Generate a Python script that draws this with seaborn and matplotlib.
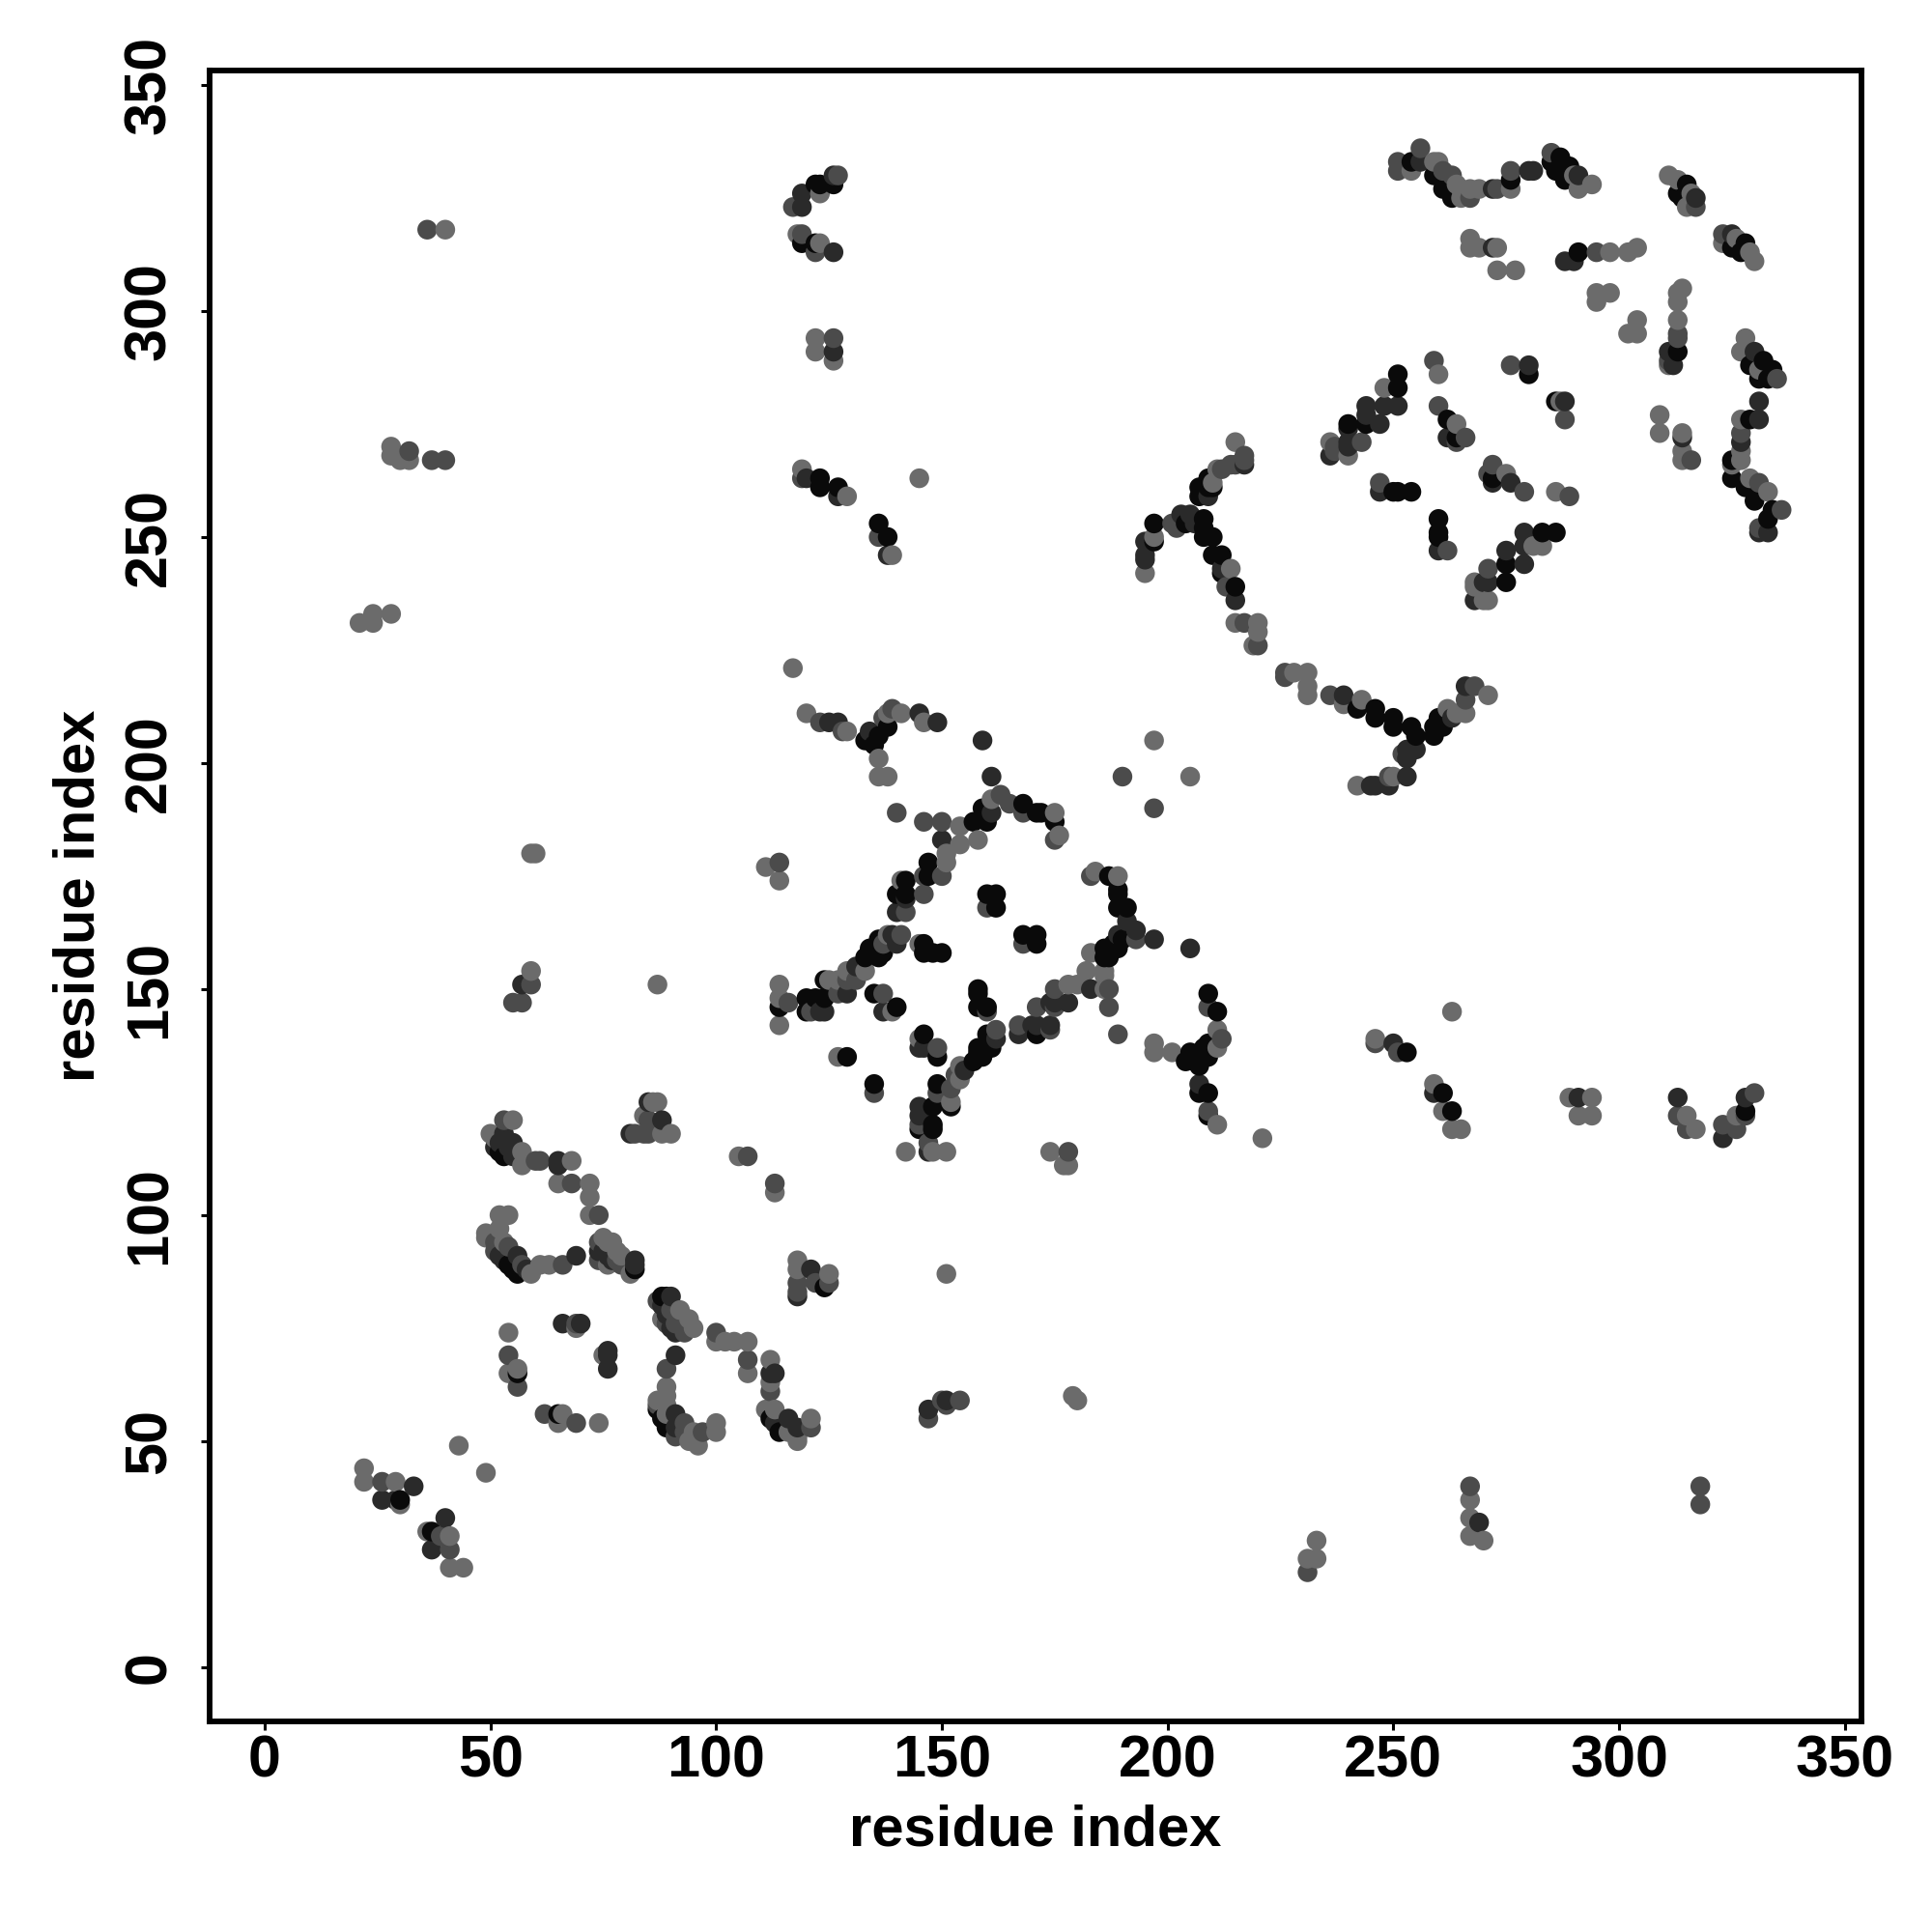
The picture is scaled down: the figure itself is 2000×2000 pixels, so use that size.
"""Residue contact map, drawn from hand-read (x, y, level) triples."""

import matplotlib
matplotlib.use("Agg")
import matplotlib.pyplot as plt
import pandas as pd
import seaborn as sns

# each contact: residue i, residue j, shade level (0 light .. 3 near black)
N_TERM = [(22,44,0),(22,41,0),(26,41,1),(29,41,0),(33,40,2),(26,37,2),(30,36,0),(29,37,2),(30,37,3),
          (40,33,2),(36,30,0),(37,30,3),(37,26,2),(39,29,1),(41,29,0),(41,26,1),(41,22,0),(44,22,0),
          (43,49,0),(49,43,0)]
FAR_LEFT = [(36,318,1),(40,318,0),(28,270,0),(28,268,0),(30,267,0),(32,269,1),(32,267,0),(37,267,1),(40,267,1),
            (21,231,0),(24,231,0),(24,233,0),(28,233,0),(59,180,0),(60,180,0),(59,154,0),(59,151,1),(57,151,2),
            (55,147,1),(57,147,1),(87,151,0),(54,74,0),(54,69,1),(54,65,0),(56,65,3),(56,66,0),(56,62,1),
            (66,76,2),(69,75,0),(69,76,1),(70,76,2),(75,69,0),(76,70,2),(76,69,2),(76,66,2),
            (62,56,1),(65,56,3),(66,56,0),(65,54,0),(69,54,1),(74,54,0)]
BLOCK_A = [(53,121,1),(55,121,0),(50,118,0),(51,117,0),(52,116,2),(53,118,2),(51,115,2),(55,116,2),(52,114,3),(53,113,3),
           (54,115,2),(55,113,2),(57,114,0),(57,111,0),(60,112,1),(61,112,1),(65,112,2),(65,111,2),(68,112,0),
           (65,107,0),(68,107,1),(72,107,0),(72,104,0),(72,100,0),(74,100,1),(105,113,0),(107,113,1),(113,105,0),(113,107,1),
           (52,100,0),(54,100,0),(49,96,0),(49,95,0),(52,97,0),(51,94,1),(53,94,0),(51,92,1),(52,91,2),(54,93,1),(53,90,2),
           (56,91,2),(54,89,3),(55,88,3),(57,89,1),(56,87,3),(58,88,2),(59,87,0),(61,89,0),(63,89,0),(66,89,1),(69,91,2)]
BLOCK_B = [(74,94,1),(74,92,2),(74,90,1),(75,95,0),(76,94,0),(75,92,2),(76,91,2),(77,94,0),(76,89,0),(77,90,2),
           (78,92,0),(78,90,1),(79,89,1),(79,91,0),(81,87,0),(82,90,2),(82,89,2),(82,88,3),
           (85,125,2),(86,125,0),(87,125,0),(84,122,0),(85,121,1),(88,121,2),(81,118,2),(82,118,1),(84,118,1),(85,118,1),(88,118,0),(90,118,0),
           (87,81,1),(88,82,3),(89,82,3),(90,82,2),(88,80,2),(89,78,2),(90,79,1),(88,77,0),(89,76,1),(90,75,2),(91,76,1),(92,79,0),
           (91,74,2),(92,77,1),(93,75,1),(94,77,0),(93,74,1),(95,75,0),(100,74,1),(100,72,0),(102,72,0),(104,72,0),(107,72,0),(107,68,1),(107,65,0)]
BLOCK_C = [(91,69,2),(89,66,1),(89,62,0),(89,60,0),(89,58,0),(87,59,0),(87,57,3),(87,58,1),(88,55,3),(89,56,0),(89,53,3),
           (91,56,2),(91,53,2),(93,54,1),(91,51,1),(93,52,1),(95,52,0),(96,49,0),(95,51,0),(94,50,0),(97,52,1),(100,54,0),(100,52,0),
           (112,68,0),(112,65,2),(113,65,2),(112,61,1),(112,63,0),(111,57,0),(113,57,0),(112,55,3),(113,54,2),(114,52,3),
           (116,55,2),(116,52,0),(118,53,2),(118,51,0),(118,50,0),(121,55,0),(121,53,1)]
BLOCK_D = [(118,90,0),(118,88,0),(121,88,2),(118,85,1),(118,83,1),(118,82,2),(122,85,1),(125,87,0),(125,85,1),(124,84,3),
           (147,57,2),(147,55,1),(150,59,1),(151,58,1),(151,59,2),(154,59,1),(151,87,0),(179,60,0),(180,59,0),
           (231,21,1),(231,24,0),(233,24,0),(233,28,0),(267,40,1),(267,37,0),(267,33,0),(267,29,0),(269,32,2),(270,28,0),
           (318,40,1),(318,36,1)]
CENTER_LEFT = [(111,177,0),(114,178,1),(114,174,0),(114,151,0),(114,148,0),(116,147,1),(114,146,3),(114,142,0),
               (120,148,3),(122,148,3),(124,148,3),(120,145,3),(121,145,1),(123,145,2),(124,145,2),(124,152,3),(125,152,0),(127,152,0),
               (127,149,1),(129,149,2),(129,152,1),(129,154,0),(131,152,1),(131,155,2),(133,154,0),(133,157,3),(134,159,3),
               (136,157,3),(136,159,3),(136,161,3),(137,158,3),(137,160,1),(138,162,0),(139,162,2),(140,160,2),(141,162,1),
               (127,135,0),(129,135,3),(135,129,3),(135,127,1),(135,149,3),(137,149,1),(137,145,2),(139,145,0),(140,146,3),
               (145,160,0),(146,160,3),(146,158,3),(148,158,3),(150,158,3),(145,139,0),(146,140,3),(145,137,2),(146,137,2),(149,137,1),(149,135,3)]
CENTER_UP = [(140,189,1),(146,187,1),(150,187,1),(150,183,2),(154,186,0),(154,182,0),(158,183,0),(151,180,0),(151,178,0),
             (147,178,3),(146,175,1),(147,175,3),(150,175,1),(146,171,1),(141,174,0),(142,174,3),(140,171,3),(142,171,3),(142,170,2),(140,167,2),(142,167,1),
             (157,187,3),(159,190,3),(160,187,3),(161,189,2),(161,192,0),(163,193,1),(165,191,1),(168,189,1),(168,191,3),(171,189,3),(172,189,3),
             (175,187,3),(175,189,0),(175,183,1),(176,184,0),(197,190,1),(160,171,3),(162,171,3),(160,168,1),(162,168,3),
             (168,160,1),(168,162,3),(171,162,3),(171,160,3),(158,150,3),(158,149,3),(158,146,3),(160,145,1),(160,146,3)]
CENTER_RIGHT = [(183,175,1),(184,176,0),(187,175,3),(189,175,0),(189,172,3),(189,171,3),(189,168,3),(191,168,3),(191,165,2),
                (193,161,1),(193,163,2),(197,161,2),(205,159,2),(189,162,2),(188,160,3),(190,161,3),(186,159,3),(189,159,3),(186,157,3),(187,157,3),
                (183,158,0),(182,154,0),(186,154,0),(186,153,0),(186,150,0),(187,150,1),(183,150,2),(180,151,0),(178,151,0),(187,146,1),(189,140,1),
                (175,150,1),(175,146,1),(175,147,2),(174,147,2),(178,147,2),(171,146,1),(174,141,1),(174,142,2),(170,142,2),(171,142,2),(171,140,3),(167,140,2),(167,142,1),
                (162,139,2),(162,141,1),(160,140,3),(161,137,3),(158,137,3),(158,136,3),(159,135,3),(157,134,3),(155,132,2),(154,133,0),(153,131,1),(154,130,0),
                (149,129,3),(149,127,1),(152,124,3),(152,128,1),(152,125,0),(145,124,2),(145,122,2),(145,119,3),(145,120,1),(148,124,3),(148,120,3),(148,119,3),
                (142,114,0),(147,114,2),(147,116,1),(148,114,0),(151,114,0),(174,114,0),(178,114,1),(177,111,0),(178,111,0),(221,117,0)]
SIDE_RIGHT = [(209,149,3),(209,146,1),(211,145,3),(211,141,0),(211,137,0),(212,139,1),(209,138,3),(208,137,3),(208,136,3),(205,136,3),(204,134,3),(206,134,3),
              (207,133,3),(209,135,3),(197,138,0),(197,136,0),(201,136,0),(207,129,2),(207,127,3),(209,127,3),(209,122,3),(209,123,1),(211,120,0),
              (246,139,0),(246,138,1),(250,138,2),(251,136,1),(253,136,3),(259,129,0),(259,127,2),(261,127,3),(261,123,0),(263,123,3),(263,119,0),(265,119,0),(263,145,0),
              (289,126,0),(291,126,2),(294,126,0),(291,122,0),(294,122,0),(313,126,2),(313,122,1),(315,122,0),(315,119,1),(317,119,0),
              (323,120,1),(323,117,2),(326,122,0),(326,119,1),(328,126,2),(328,122,1),(328,123,3),(330,127,1)]
TOP_LEFT = [(117,323,1),(119,323,2),(119,326,2),(123,326,0),(122,328,3),(123,328,3),(126,328,3),(126,330,2),(127,330,1),
            (119,315,3),(118,317,0),(119,317,1),(122,315,3),(122,313,1),(123,315,0),(126,313,2),
            (122,294,0),(122,291,0),(126,289,0),(126,294,1),(126,291,2),
            (119,265,0),(119,263,1),(120,263,2),(123,263,3),(123,261,3),(127,261,3),(127,259,2),(129,259,0),(145,263,0),
            (136,253,3),(136,250,1),(138,250,3),(138,246,2),(139,246,0),
            (117,221,0),(120,211,0),(123,209,1),(125,209,2),(127,209,2),(128,207,1),(129,207,0),
            (134,207,2),(133,205,3),(135,204,3),(136,206,3),(138,208,3),(137,210,1),(138,211,0),(139,212,1),(141,211,0),(136,201,0),(136,197,0),(138,197,0),
            (145,211,2),(146,209,0),(149,209,2),(159,205,2),(161,197,2)]
ARC_LEFT = [(215,271,0),(217,268,1),(217,267,1),(217,266,2),(215,266,1),(214,266,1),(211,265,0),(212,265,1),(209,263,3),(210,262,0),(209,261,3),
            (207,261,3),(210,261,3),(207,259,3),(209,259,2),(197,253,3),(195,249,2),(197,249,3),(197,250,0),(195,246,2),(195,245,2),(195,242,0),
            (201,253,1),(202,252,1),(203,255,2),(205,255,2),(204,253,3),(206,253,2),(208,254,3),(208,252,3),(208,250,3),(210,250,3),(210,246,3),(212,246,3),
            (212,243,2),(212,242,3),(214,243,0),(213,239,1),(215,239,3),(215,236,2),(215,231,0),(217,231,1),(220,231,0),(220,229,0),(219,226,0),(220,226,1),
            (226,220,1),(226,219,1),(228,220,0),(231,220,0),(231,217,0),(231,215,0),(236,215,1),(239,213,0),(239,215,2),(242,212,3),(243,214,0),
            (246,212,3),(246,210,3),(250,210,3),(250,208,3),(254,208,3),(255,206,3),(255,203,2),(253,203,2),(252,202,1),(253,201,2),(253,197,2),
            (249,195,2),(250,197,0),(249,197,1),(246,195,2),(245,195,2),(242,195,0),(259,206,3),(259,208,3),(260,210,3),(261,208,3),(263,210,2),
            (262,212,0),(264,211,0),(266,211,0),(266,214,1),(266,217,2),(268,217,1),(271,215,0),(197,205,0),(190,197,1),(205,197,0)]
BOX_RIGHT = [(251,286,3),(251,283,3),(248,283,0),(251,279,2),(248,279,2),(244,279,2),(244,277,2),(247,275,2),(244,275,3),(240,275,3),(240,274,2),
             (243,271,1),(240,271,2),(240,270,2),(236,271,0),(237,270,1),(236,268,2),(240,268,0),(237,269,1),(259,289,1),(260,286,0),(260,279,1),
             (262,276,3),(262,272,2),(264,272,3),(264,275,0),(266,272,1),(264,271,1),(276,288,1),(280,286,3),(280,288,2),(286,280,3),(287,280,0),(288,280,2),(288,276,1),
             (271,264,1),(272,266,1),(272,263,3),(272,262,2),(275,264,0),(276,262,2),(279,260,1),(286,260,0),(289,259,1),
             (247,262,1),(247,260,2),(250,260,3),(251,260,3),(254,260,3),(260,254,3),(260,251,3),(260,250,3),(260,247,2),(262,247,1),
             (286,251,3),(283,251,3),(279,251,2),(279,248,2),(281,248,0),(283,248,0),(275,247,2),(279,244,2),(275,244,3),(275,240,3),
             (271,243,1),(271,240,2),(270,240,2),(268,240,0),(268,239,0),(268,236,2),(270,236,0),(271,236,0)]
TOP_RIGHT = [(251,333,1),(251,331,1),(254,331,0),(254,333,3),(256,336,1),(256,333,2),(259,333,0),(260,333,0),(259,330,3),(261,331,1),(261,327,3),(263,325,3),
             (263,330,1),(264,328,0),(265,327,0),(265,325,0),(267,325,1),(267,327,0),(269,327,0),(272,327,2),(273,327,1),(276,329,3),(276,331,1),(276,327,0),(280,331,2),(281,331,2),
             (285,335,1),(285,333,3),(286,331,3),(287,334,3),(288,329,3),(289,332,3),(290,330,0),(291,330,2),(291,327,0),(294,328,0),
             (311,330,0),(313,329,0),(313,326,3),(314,325,3),(315,328,3),(316,326,0),(317,325,2),(315,323,0),(317,323,1),
             (323,317,1),(323,315,0),(325,317,2),(325,314,3),(326,316,0),(328,315,3),(327,313,3),(329,313,0),(330,311,0),
             (267,316,0),(267,314,0),(269,314,0),(272,314,2),(273,314,0),(273,309,0),(277,309,0),
             (288,311,2),(290,311,2),(291,313,3),(295,313,1),(298,313,0),(302,313,0),(304,314,0),
             (295,304,0),(298,304,0),(295,302,0),(304,298,0),(302,295,0),(304,295,0),
             (314,305,0),(313,304,0),(313,302,0),(313,298,0),(313,295,1),(313,294,1),(313,291,3),(311,291,2),(311,288,0),(311,289,1),(312,288,2),
             (328,294,0),(327,291,0),(330,291,2),(329,288,3),(332,289,3),(331,287,0),(334,287,3),(331,285,3),(333,285,3),(335,285,1),
             (331,280,2),(331,276,2),(329,276,3),(327,276,0),(327,273,1),(327,271,2),(327,269,0),(325,267,3),(327,267,0),(325,266,0),
             (325,263,3),(328,261,3),(330,258,3),(329,263,0),(331,262,1),(333,260,0),(334,256,3),(336,256,1),(331,252,1),(333,254,3),(331,251,2),(333,251,2),
             (309,277,0),(309,273,0),(314,272,2),(314,273,0),(314,269,0),(314,267,0),(316,267,1)]

REGIONS = [N_TERM, FAR_LEFT, BLOCK_A, BLOCK_B, BLOCK_C, BLOCK_D, CENTER_LEFT, CENTER_UP, CENTER_RIGHT,
           SIDE_RIGHT, TOP_LEFT, ARC_LEFT, BOX_RIGHT, TOP_RIGHT]
TICKS = [0, 50, 100, 150, 200, 250, 300, 350]
GREYS = {0: "#6b6b6b", 1: "#4b4b4b", 2: "#2a2a2a", 3: "#0a0a0a"}

df = pd.DataFrame([c for region in REGIONS for c in region], columns=["i", "j", "level"])
# later residues sit on top of earlier ones
df = df.sort_values(["i", "j"]).reset_index(drop=True)

sns.set_theme(style="ticks")
plt.rcParams["font.family"] = ["Liberation Sans", "DejaVu Sans"]
plt.rcParams["font.weight"] = "bold"

fig = plt.figure(figsize=(10, 10), dpi=200)
ax = fig.add_axes([0.1085, 0.1090, 0.8550, 0.8545])
sns.scatterplot(data=df, x="i", y="j", hue="level", palette=GREYS, s=54, linewidth=0,
                legend=False, ax=ax)

ax.set_xlim(-12.2, 353.7)
ax.set_ylim(-12.0, 353.2)
ax.set_xticks(TICKS)
ax.set_yticks(TICKS)
ax.tick_params(length=3.2, width=1.1, color="black", labelcolor="black", labelsize=22)
ax.tick_params(axis="x", pad=1.5)
ax.tick_params(axis="y", pad=8.5)
plt.setp(ax.get_yticklabels(), rotation=90, va="center")
ax.set_xlabel("residue index", fontsize=21.5, fontweight="bold", color="black", labelpad=5.5)
ax.set_ylabel("residue index", fontsize=21.5, fontweight="bold", color="black", labelpad=6.5)
for spine in ax.spines.values():
    spine.set_visible(True)
    spine.set_linewidth(2.1)
    spine.set_color("black")

fig.savefig("out.png", dpi=200)
plt.close(fig)
